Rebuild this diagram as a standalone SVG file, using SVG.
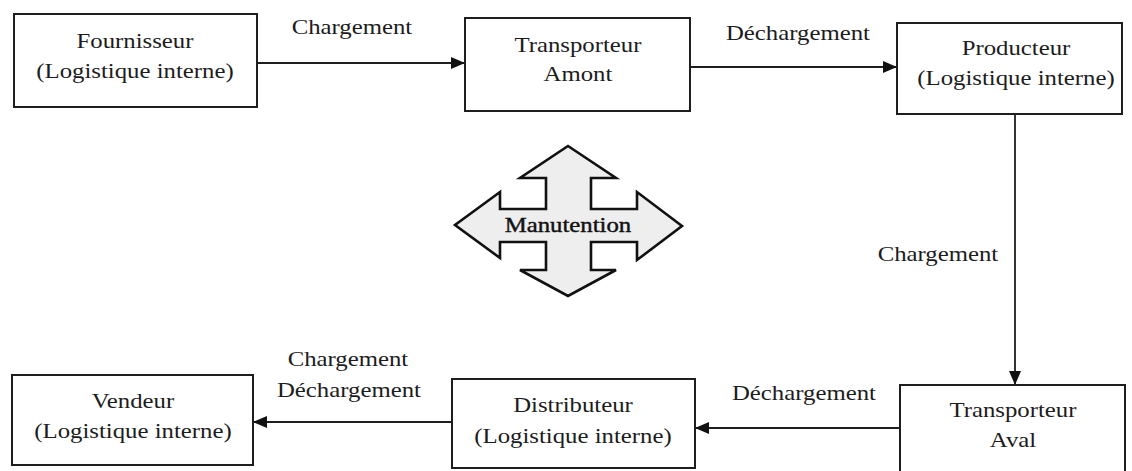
<svg xmlns="http://www.w3.org/2000/svg" width="1132" height="471" viewBox="0 0 1132 471">
  <style>
    .box { fill: #ffffff; stroke: #1e1e1e; stroke-width: 2; }
    .link { fill: none; stroke: #1e1e1e; stroke-width: 1.8; marker-end: url(#head); }
    text { font-family: "Liberation Serif", "Times New Roman", serif; font-size: 21px; fill: #1c1c1c; text-anchor: middle;
           transform-box: fill-box; transform-origin: center; transform: scaleX(1.18); }
    .hub { fill: #eeeeee; stroke: #111111; stroke-width: 2.6; stroke-linejoin: miter; }
    .hubtxt { fill: #111111; stroke: #111111; stroke-width: 0.4; }
  </style>
  <defs>
    <marker id="head" markerUnits="userSpaceOnUse" markerWidth="15" markerHeight="13" refX="14" refY="6" orient="auto">
      <path d="M0,0 L14,6 L0,12 Z" fill="#111111"/>
    </marker>
  </defs>
  <rect width="1132" height="471" fill="#ffffff"/>

  <!-- flows between the actors -->
  <g id="connectors">
    <line class="link" x1="257" y1="63" x2="465" y2="63"/>
    <text x="352" y="34">Chargement</text>
    <line class="link" x1="690" y1="67" x2="897" y2="67"/>
    <text x="798" y="40">Déchargement</text>
    <line class="link" x1="1015" y1="114" x2="1015" y2="385"/>
    <text x="938" y="261">Chargement</text>
    <line class="link" x1="900" y1="428" x2="695" y2="428"/>
    <text x="804" y="400">Déchargement</text>
    <line class="link" x1="452" y1="422" x2="253" y2="422"/>
    <text x="348" y="366">Chargement</text>
    <text x="349" y="397">Déchargement</text>
  </g>

  <g id="fournisseur">
    <rect class="box" x="14" y="14" width="243" height="93"/>
    <text x="135" y="48">Fournisseur</text>
    <text x="135" y="78">(Logistique interne)</text>
  </g>

  <g id="transporteur-amont">
    <rect class="box" x="465" y="18" width="225" height="93"/>
    <text x="578" y="52">Transporteur</text>
    <text x="578" y="81">Amont</text>
  </g>

  <g id="producteur">
    <rect class="box" x="897" y="23" width="225" height="91"/>
    <text x="1016" y="55">Producteur</text>
    <text x="1016" y="85">(Logistique interne)</text>
  </g>

  <g id="transporteur-aval">
    <rect class="box" x="900" y="385" width="225" height="100"/>
    <text x="1013" y="417">Transporteur</text>
    <text x="1013" y="447">Aval</text>
  </g>

  <g id="distributeur">
    <rect class="box" x="452" y="379" width="243" height="89"/>
    <text x="573" y="412">Distributeur</text>
    <text x="573" y="443">(Logistique interne)</text>
  </g>

  <g id="vendeur">
    <rect class="box" x="12" y="375" width="241" height="90"/>
    <text x="133" y="408">Vendeur</text>
    <text x="133" y="438">(Logistique interne)</text>
  </g>

  <!-- four-way handling arrow -->
  <g id="manutention">
    <path class="hub" d="M568,146 L616,178 L591,178 L591,209 L637,209 L637,192 L682,226 L637,260 L637,242 L591,242 L591,270 L616,270 L568,296 L520,270 L546,270 L546,242 L500,242 L500,258 L455,225 L500,192 L500,209 L546,209 L546,178 L520,178 Z"/>
    <text class="hubtxt" x="568" y="232">Manutention</text>
  </g>
</svg>
